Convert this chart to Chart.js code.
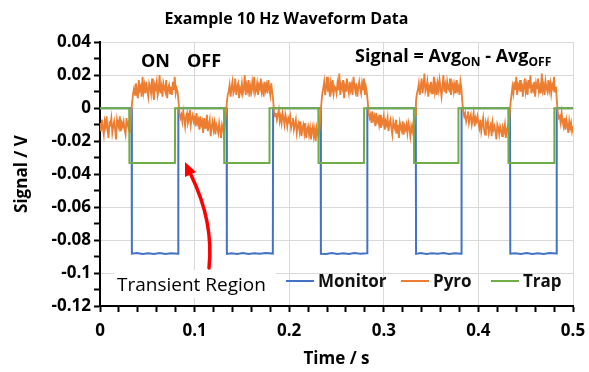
<!DOCTYPE html>
<html>
<head>
<meta charset="utf-8">
<script src="https://cdn.jsdelivr.net/npm/chart.js@4/dist/chart.umd.min.js"></script>
<style>
    html, body { margin: 0; padding: 0; background: #fff; }
    #wrap { width: 589px; height: 372px; }
</style>
</head>
<body>
<div id="wrap"><canvas id="myChart" width="589" height="372"></canvas></div>
<script>
// pyro trace, one sample per ms starting at t = 0, values in mV
const pyroStart = 0;
const pyroStep = 0.001;
const pyroMv = [
    -9, -14, -7, -12, -16, -8, -11, -5, -13, -18, -9, -10, -6, -15, -11, -8, -13, -19, -7, -10, -12, -5, -14, -9, -11,
    -8, -13, -16, -6, -10, -12, -7, -15, -3, 4, 9, 12, 8, 15, 10, 6, 17, 11, 13, 7, 19, 10, 14, 9, 16,
    11, 7, 15, 13, 9, 18, 10, 5, 14, 12, 16, 8, 11, 20, 9, 13, 7, 15, 12, 10, 17, 6, 12, 14, 9,
    13, 8, 16, 11, 19, 9, 12, 10, 4, -3, -6, -4, -8, -2, -6, -11, -5, -3, -9, -7, -1, -10, -6, -4, -8,
    -6, -11, -3, -9, -7, -13, -5, -10, -8, -15, -6, -12, -9, -4, -14, -10, -7, -17, -11, -8, -13, -9, -16, -10, -12,
    -15, -9, -13, -18, -10, -12, -16, -11, -4, 3, 8, 10, 14, 7, 12, 16, 9, 11, 18, 8, 13, 15, 6, 12, 10,
    15, 9, 12, 20, 8, 14, 11, 17, 7, 13, 10, 16, 12, 19, 9, 11, 15, 8, 14, 12, 18, 10, 13, 7, 16,
    11, 14, 9, 17, 12, 8, 15, 10, 5, -2, -5, -3, -7, -4, -1, -8, -5, -9, -3, -6, -10, -4, -7, -11, -6,
    -8, -5, -12, -9, -6, -13, -10, -7, -15, -11, -9, -14, -8, -17, -12, -10, -15, -9, -18, -13, -11, -16, -12, -19, -14,
    -11, -17, -13, -20, -12, -15, -18, -13, -5, 3, 9, 12, 16, 8, 13, 19, 10, 14, 7, 15, 11, 17, 9, 13, 12,
    9, 15, 11, 21, 8, 14, 12, 17, 6, 13, 10, 18, 12, 9, 16, 11, 14, 8, 19, 13, 10, 15, 7, 12, 16,
    12, 9, 15, 11, 18, 8, 13, 10, 4, -3, -6, -4, -9, -2, -7, -5, -11, -3, -8, -6, -10, -4, -12, -7, -9,
    -5, -13, -8, -10, -6, -14, -9, -7, -12, -16, -8, -11, -13, -7, -15, -10, -18, -9, -12, -14, -8, -16, -11, -13, -10,
    -15, -9, -12, -17, -11, -14, -10, -13, -4, 4, 9, 11, 15, 8, 13, 18, 9, 14, 21, 10, 12, 16, 7, 13, 11,
    16, 9, 12, 19, 10, 14, 8, 15, 11, 17, 12, 7, 13, 20, 10, 14, 9, 16, 12, 11, 18, 8, 13, 15, 10,
    14, 9, 17, 11, 13, 8, 16, 12, 4, -2, -5, -3, -8, -5, -2, -9, -6, -4, -10, -7, -3, -11, -6, -8, -5,
    -9, -12, -7, -14, -10, -6, -13, -16, -9, -11, -8, -15, -12, -10, -17, -9, -13, -11, -14, -19, -10, -12, -16, -11, -13,
    -17, -12, -14, -10, -18, -13, -11, -15, -4, 3, 8, 13, 9, 16, 11, 19, 8, 14, 12, 17, 10, 15, 7, 13, 18,
    10, 14, 8, 17, 12, 20, 9, 13, 11, 16, 7, 15, 12, 18, 10, 13, 9, 21, 11, 14, 8, 16, 12, 10, 17,
    11, 15, 9, 14, 12, 19, 10, 13, 4, -3, -6, -5, -9, -3, -8, -11, -6, -13, -7, -10, -15, -8, -12, -9, -14,
    -11
];

// monitor: s / V
const monitorTime = [
    0, 0.0334, 0.0337, 0.039, 0.045, 0.051, 0.057, 0.063, 0.069, 0.075, 0.0825, 0.0828,
    0.1338, 0.1341, 0.139, 0.145, 0.151, 0.157, 0.163, 0.169, 0.175, 0.1827, 0.1830,
    0.2332, 0.2335, 0.239, 0.245, 0.251, 0.257, 0.263, 0.269, 0.275, 0.2823, 0.2826,
    0.3338, 0.3341, 0.339, 0.345, 0.351, 0.357, 0.363, 0.369, 0.375, 0.3819, 0.3822,
    0.4334, 0.4337, 0.439, 0.445, 0.451, 0.457, 0.463, 0.469, 0.475, 0.4825, 0.4828,
    0.5
];
const monitorV = [
    0, 0, -0.0883, -0.0879, -0.0885, -0.0880, -0.0884, -0.0879, -0.0884, -0.0880, -0.0883, 0,
    0, -0.0884, -0.0880, -0.0884, -0.0879, -0.0885, -0.0880, -0.0883, -0.0879, -0.0882, 0,
    0, -0.0883, -0.0885, -0.0879, -0.0884, -0.0880, -0.0885, -0.0879, -0.0883, -0.0880, 0,
    0, -0.0884, -0.0879, -0.0885, -0.0880, -0.0883, -0.0879, -0.0885, -0.0880, -0.0883, 0,
    0, -0.0883, -0.0880, -0.0885, -0.0879, -0.0884, -0.0880, -0.0885, -0.0879, -0.0882, 0,
    0
];

// trap: s / V
const trapTime = [
    0, 0.0309, 0.0311, 0.0792, 0.0794,
    0.1311, 0.1313, 0.1790, 0.1792,
    0.2308, 0.2310, 0.2790, 0.2792,
    0.3318, 0.3320, 0.3787, 0.3789,
    0.4316, 0.4318, 0.4801, 0.4803,
    0.5
];
const trapV = [
    0, 0, -0.0333, -0.0333, 0,
    0, -0.0333, -0.0333, 0,
    0, -0.0333, -0.0333, 0,
    0, -0.0333, -0.0333, 0,
    0, -0.0333, -0.0333, 0,
    0
];

const seriesNames = ['Monitor', 'Pyro', 'Trap'];
const seriesColors = ['#4472C4', '#ED7D31', '#70AD47'];

const xTickLabels = ['0', '0.1', '0.2', '0.3', '0.4', '0.5'];
const yTickLabels = ['0.04', '0.02', '0', '-0.02', '-0.04', '-0.06', '-0.08', '-0.1', '-0.12'];

const FONT = "'Open Sans', 'Liberation Sans', sans-serif";

function pairs(xs, ys) {
    return xs.map((x, i) => ({x: x, y: ys[i]}));
}

const pyroData = pyroMv.map((v, i) => ({x: pyroStart + i * pyroStep, y: v / 1000}));

function isMultiple(v, step) {
    const r = v / step;
    return Math.abs(r - Math.round(r)) < 1e-6;
}

// annotations: texts, legend and red arrow
const overlay = {
    id: 'overlay',
    afterDatasetsDraw(chart) {
        const ctx = chart.ctx;
        ctx.save();
        ctx.fillStyle = '#000';
        ctx.textBaseline = 'alphabetic';
        ctx.textAlign = 'left';

        ctx.font = "bold 18px " + FONT;
        ctx.fillText('ON', 141, 67);
        ctx.fillText('OFF', 187, 67);

        // Signal = Avg_ON - Avg_OFF
        let x = 355;
        ctx.font = "bold 18px " + FONT;
        ctx.fillText('Signal = Avg', x, 62);
        x += ctx.measureText('Signal = Avg').width;
        ctx.font = "bold 12px " + FONT;
        ctx.fillText('ON', x, 66);
        x += ctx.measureText('ON').width;
        ctx.font = "bold 18px " + FONT;
        ctx.fillText(' - Avg', x, 62);
        x += ctx.measureText(' - Avg').width;
        ctx.font = "bold 12px " + FONT;
        ctx.fillText('OFF', x, 66);

        // transient label
        ctx.fillStyle = '#fff';
        ctx.fillRect(114, 270, 162, 28);
        ctx.fillStyle = '#000';
        ctx.font = "19px " + FONT;
        ctx.fillText('Transient Region', 117, 291);

        // legend
        const legendX = [286, 401, 491];
        ctx.font = "bold 17px " + FONT;
        ctx.lineWidth = 2;
        seriesNames.forEach((name, i) => {
            ctx.strokeStyle = seriesColors[i];
            ctx.beginPath();
            ctx.moveTo(legendX[i], 281);
            ctx.lineTo(legendX[i] + 28, 281);
            ctx.stroke();
            ctx.fillStyle = '#111';
            ctx.fillText(name, legendX[i] + 32, 287);
        });

        // red arrow
        ctx.strokeStyle = '#FF0000';
        ctx.fillStyle = '#FF0000';
        ctx.lineWidth = 3.5;
        ctx.lineCap = 'round';
        ctx.beginPath();
        ctx.moveTo(209, 268);
        ctx.quadraticCurveTo(214, 222, 191, 175);
        ctx.stroke();
        ctx.beginPath();
        ctx.moveTo(185, 162);
        ctx.lineTo(196, 172);
        ctx.lineTo(185, 177);
        ctx.closePath();
        ctx.fill();
        ctx.restore();
    }
};

Chart.defaults.font.family = FONT;
Chart.defaults.color = '#000';

const chart = new Chart(document.getElementById('myChart'), {
    type: 'line',
    data: {
        datasets: [
            {
                label: seriesNames[0],
                data: pairs(monitorTime, monitorV),
                borderColor: seriesColors[0],
                borderWidth: 2,
                pointRadius: 0,
                order: 3
            },
            {
                label: seriesNames[1],
                data: pyroData,
                borderColor: seriesColors[1],
                borderWidth: 1.8,
                pointRadius: 0,
                order: 2
            },
            {
                label: seriesNames[2],
                data: pairs(trapTime, trapV),
                borderColor: seriesColors[2],
                borderWidth: 2,
                pointRadius: 0,
                order: 1
            }
        ]
    },
    options: {
        responsive: false,
        animation: false,
        layout: {padding: {left: 0, right: 16, top: 0, bottom: 0}},
        plugins: {
            legend: {display: false},
            tooltip: {enabled: false},
            title: {
                display: true,
                text: 'Example 10 Hz Waveform Data',
                color: '#000',
                font: {size: 16, weight: 'bold'},
                padding: {top: 10, bottom: 13}
            }
        },
        scales: {
            x: {
                type: 'linear',
                min: 0,
                max: 0.5,
                afterFit: (scale) => {
                    scale.height = 66;
                    scale.paddingRight = 0;
                },
                ticks: {
                    stepSize: 0.02,
                    autoSkip: false,
                    maxRotation: 0,
                    padding: 9,
                    color: '#000',
                    font: {size: 17, weight: 'bold'},
                    callback: (v) => isMultiple(v, 0.1) ? xTickLabels[Math.round(v * 10)] : ''
                },
                grid: {
                    color: (c) => isMultiple(c.tick.value, 0.1) ? '#d9d9d9' : 'rgba(0,0,0,0)',
                    tickColor: '#000',
                    tickWidth: 2,
                    tickLength: 6
                },
                border: {color: '#000', width: 2},
                title: {
                    display: true,
                    text: 'Time / s',
                    color: '#000',
                    font: {size: 17, weight: 'bold'},
                    padding: {top: 4, bottom: 3}
                }
            },
            y: {
                min: -0.12,
                max: 0.04,
                afterFit: (scale) => { scale.width = 100; },
                ticks: {
                    stepSize: 0.01,
                    autoSkip: false,
                    padding: 3,
                    color: '#000',
                    font: {size: 17, weight: 'bold'},
                    callback: (v) => isMultiple(v, 0.02) ? yTickLabels[Math.round((0.04 - v) / 0.02)] : ''
                },
                grid: {
                    color: (c) => isMultiple(c.tick.value, 0.02) ? '#d9d9d9' : 'rgba(0,0,0,0)',
                    tickColor: '#000',
                    tickWidth: 2,
                    tickLength: 6
                },
                border: {color: '#000', width: 2},
                title: {
                    display: true,
                    text: 'Signal / V',
                    color: '#000',
                    font: {size: 17, weight: 'bold'},
                    padding: {top: 12, bottom: 4}
                }
            }
        }
    },
    plugins: [overlay]
});
</script>
</body>
</html>
